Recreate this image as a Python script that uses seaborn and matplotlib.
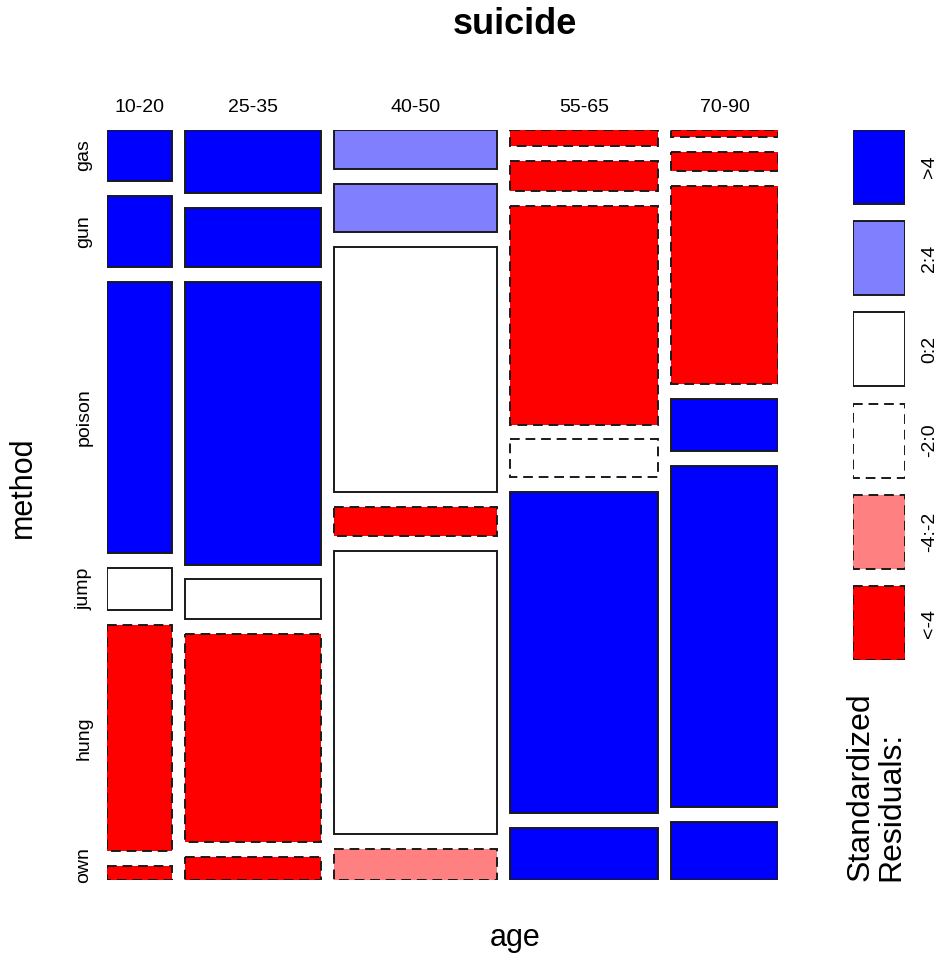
import matplotlib
matplotlib.use("Agg")
import matplotlib.pyplot as plt
import matplotlib.transforms as mtransforms
import numpy as np
import seaborn as sns

# age groups (columns) and methods (rows, top to bottom)
ages = ["10-20", "25-35", "40-50", "55-65", "70-90"]
methods = ["gas", "gun", "poison", "jump", "hung", "own"]

# estimated counts, one list per age group, in the order of `methods`
counts_10_20 = [166, 231, 884, 137, 735, 46]
counts_25_35 = [432, 398, 1924, 270, 1418, 155]
counts_40_50 = [320, 394, 2009, 238, 2321, 254]
counts_55_65 = [118, 222, 1621, 281, 2375, 385]
counts_70_90 = [37, 102, 1059, 278, 1824, 310]

# residual class of each cell as shown in the chart
# 0: >4, 1: 2:4, 2: 0:2, 3: -2:0, 4: -4:-2, 5: <-4
resid_10_20 = [0, 0, 0, 2, 5, 5]
resid_25_35 = [0, 0, 0, 2, 5, 5]
resid_40_50 = [1, 1, 2, 5, 2, 4]
resid_55_65 = [5, 5, 5, 3, 0, 0]
resid_70_90 = [5, 5, 5, 0, 0, 0]

legend_labels = [">4", "2:4", "0:2", "-2:0", "-4:-2", "<-4"]
legend_colors = ["#0000FF", "#8080FF", "#FFFFFF", "#FFFFFF", "#FF8080", "#FF0000"]
legend_dashed = [False, False, False, True, True, True]

counts = np.array([counts_10_20, counts_25_35, counts_40_50, counts_55_65, counts_70_90], dtype=float)
resid = np.array([resid_10_20, resid_25_35, resid_40_50, resid_55_65, resid_70_90])

sns.set_theme(style="white")
plt.rcParams["font.family"] = ["Liberation Sans", "DejaVu Sans"]
plt.rcParams["text.color"] = "black"

W, H = 943, 958
fig = plt.figure(figsize=(W / 100, H / 100), dpi=100)

def px_rect(x0, y0, x1, y1):
    return [x0 / W, 1 - y1 / H, (x1 - x0) / W, (y1 - y0) / H]

ax = fig.add_axes(px_rect(107, 130, 778, 880))
gx, gy = 0.021, 0.022
lw = 1.4
edge = "#1a1a1a"
dash = (0, (5, 3))

col_frac = counts.sum(axis=1) / counts.sum()
x_left = np.concatenate([[0], np.cumsum(col_frac)[:-1]]) + gx * np.arange(len(ages))

for j in range(len(ages)):
    row_frac = counts[j] / counts[j].sum()
    tops = np.concatenate([[0], np.cumsum(row_frac)[:-1]]) + gy * np.arange(len(methods))
    for i in range(len(methods)):
        k = resid[j, i]
        ax.bar(x_left[j], row_frac[i], width=col_frac[j], bottom=tops[i], align="edge",
               color=legend_colors[k], edgecolor=edge, linewidth=lw,
               linestyle=dash if legend_dashed[k] else "solid")
    if j == 0:
        first_tops, first_frac = tops, row_frac

ax.set_xlim(0, 1 + gx * (len(ages) - 1))
ax.set_ylim(1 + gy * (len(methods) - 1), 0)
ax.axis("off")

# column labels
tr_x = mtransforms.blended_transform_factory(ax.transData, fig.transFigure)
for j, a in enumerate(ages):
    fig.text(x_left[j] + col_frac[j] / 2, 1 - 112 / H, a, transform=tr_x,
             ha="center", va="baseline", fontsize=14)

# row labels (from first column); the last one is cut off at the bottom in the original
tr_y = mtransforms.blended_transform_factory(fig.transFigure, ax.transData)
for i, m in enumerate(methods):
    yc = first_tops[i] + first_frac[i] / 2
    if i == len(methods) - 1:
        yc -= 0.011
    fig.text(84 / W, yc, m, transform=tr_y,
             ha="center", va="center", rotation=90, fontsize=14)

# legend
lax = fig.add_axes(px_rect(853, 130, 905, 660))
nb = len(legend_labels)
bh = 74 / 91.5
for k in range(nb):
    lax.bar(0, bh, width=1, bottom=k, align="edge", color=legend_colors[k],
            edgecolor=edge, linewidth=lw,
            linestyle=dash if legend_dashed[k] else "solid")
    lax.text(1.48, k + bh / 2, legend_labels[k], transform=lax.get_yaxis_transform(),
             ha="center", va="center", rotation=90, fontsize=14)
lax.set_xlim(0, 1)
lax.set_ylim(nb - 1 + bh, 0)
lax.axis("off")

fig.text(876 / W, 1 - 881 / H, "Standardized\nResiduals:", ha="center", va="bottom",
         rotation=90, fontsize=23, multialignment="left", linespacing=1.0)

fig.text(515 / W, 1 - 25 / H, "suicide", ha="center", va="center",
         fontsize=26, fontweight="bold")
fig.text(515 / W, 1 - 946 / H, "age", ha="center", va="baseline", fontsize=22)
fig.text(23 / W, 1 - 487 / H, "method", ha="center", va="center", rotation=90, fontsize=22)

fig.savefig("out.png", dpi=100)
